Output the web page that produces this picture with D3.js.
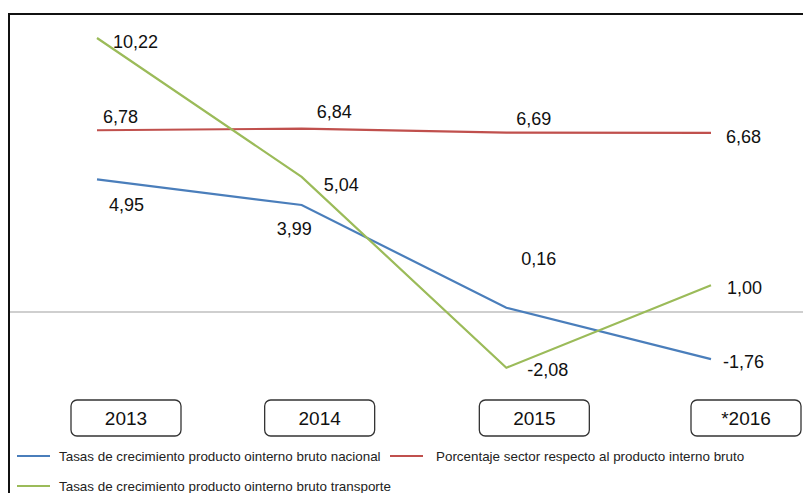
<!DOCTYPE html>
<html>
<head>
<meta charset="utf-8">
<script src="https://cdn.jsdelivr.net/npm/d3@7"></script>
<style>
  body { margin: 0; background: #fff; }
  svg { display: block; font-family: "Liberation Sans", Arial, sans-serif; }
</style>
</head>
<body>
<svg id="chart"></svg>
<script>
const width = 804, height = 493;

const years = ["2013", "2014", "2015", "*2016"];
const nacional = [4.95, 3.99, 0.16, -1.76];
const porcentaje = [6.78, 6.84, 6.69, 6.68];
const transporte = [10.22, 5.04, -2.08, 1.00];

const legendNames = [
  "Tasas de crecimiento producto ointerno bruto nacional",
  "Porcentaje sector respecto al producto interno bruto",
  "Tasas de crecimiento producto ointerno bruto transporte"
];
const colors = ["#4a7ebb", "#c0504d", "#9bbb59"];

// label offsets next to each point [dx, dy] (baseline)
const labelOffsets = {
  nacional:   [[12, 32], [-25, 30], [15, -43], [12, 9]],
  porcentaje: [[6, -7], [15, -11], [10, -8], [15, 10]],
  transporte: [[16, 10], [22, 14], [21, 8], [16, 9]]
};
// category boxes sit a bit right of the points
const boxShift = [29, 18, 28, 35];

const svg = d3.select("#chart").attr("width", width).attr("height", height);

const x = d3.scalePoint().domain(years).range([97, 711]);
const y = d3.scaleLinear().domain([0, 10.22]).range([312, 38]);

const fmt = d => d3.format(".2f")(d).replace(".", ",").replace("\u2212", "-");

// frame
svg.append("path")
  .attr("d", `M9,${height} L9,14 L803,14`)
  .attr("fill", "none")
  .attr("stroke", "#111")
  .attr("stroke-width", 2);

// zero line
svg.append("line")
  .attr("x1", 10).attr("x2", 803)
  .attr("y1", y(0)).attr("y2", y(0))
  .attr("stroke", "#cfcfcf")
  .attr("stroke-width", 2);

const line = d3.line()
  .x((d, i) => x(years[i]))
  .y(d => y(d));

const series = [
  { key: "porcentaje", values: porcentaje, color: colors[1] },
  { key: "nacional", values: nacional, color: colors[0] },
  { key: "transporte", values: transporte, color: colors[2] }
];

series.forEach(s => {
  svg.append("path")
    .datum(s.values)
    .attr("d", line)
    .attr("fill", "none")
    .attr("stroke", s.color)
    .attr("stroke-width", 2.2);

  svg.selectAll(null)
    .data(s.values)
    .enter().append("text")
    .attr("x", (d, i) => x(years[i]) + labelOffsets[s.key][i][0])
    .attr("y", (d, i) => y(d) + labelOffsets[s.key][i][1])
    .attr("font-size", 18)
    .attr("fill", "#111")
    .text(fmt);
});

// category boxes
const boxes = svg.selectAll(".cat")
  .data(years)
  .enter().append("g")
  .attr("transform", (d, i) => `translate(${x(d) + boxShift[i]},418)`);

boxes.append("rect")
  .attr("x", -55).attr("y", -18)
  .attr("width", 110).attr("height", 36)
  .attr("rx", 6)
  .attr("fill", "#fff")
  .attr("stroke", "#333")
  .attr("stroke-width", 1.3);

boxes.append("text")
  .attr("text-anchor", "middle")
  .attr("y", 7)
  .attr("font-size", 19)
  .attr("fill", "#111")
  .text(d => d);

// legend
const legendPos = [[17, 456], [390, 456], [17, 486]];
legendNames.forEach((name, i) => {
  const g = svg.append("g").attr("transform", `translate(${legendPos[i][0]},${legendPos[i][1]})`);
  g.append("line")
    .attr("x1", 0).attr("x2", 33)
    .attr("stroke", colors[i])
    .attr("stroke-width", 2.2);
  g.append("text")
    .attr("x", i === 1 ? 46 : 42)
    .attr("y", 4.5)
    .attr("font-size", 13.4)
    .attr("fill", "#222")
    .text(name);
});
</script>
</body>
</html>
